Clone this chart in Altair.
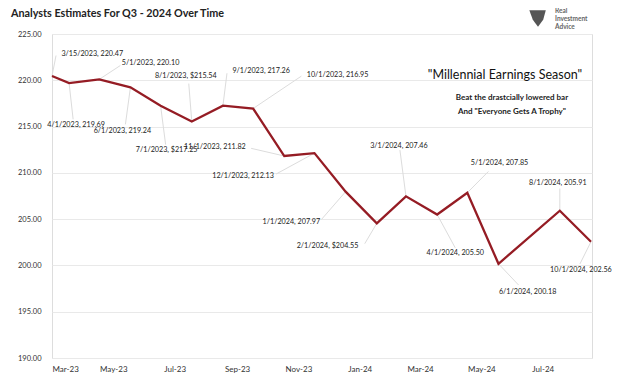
import altair as alt
import pandas as pd

# ---- data ----
dates = ["2023-03-15", "2023-04-01", "2023-05-01", "2023-06-01", "2023-07-01",
         "2023-08-01", "2023-09-01", "2023-10-01", "2023-11-01", "2023-12-01",
         "2024-01-01", "2024-02-01", "2024-03-01", "2024-04-01", "2024-05-01",
         "2024-06-01", "2024-08-01", "2024-09-01"]
values = [220.47, 219.69, 220.10, 219.24, 217.25, 215.54, 217.26, 216.95, 211.82,
          212.13, 207.97, 204.55, 207.46, 205.50, 207.85, 200.18, 205.91, 202.56]
point_labels = ["3/15/2023,  220.47", "4/1/2023,  219.69", "5/1/2023,  220.10",
                "6/1/2023,  219.24", "7/1/2023, $217.25", "8/1/2023, $215.54",
                "9/1/2023,  217.26", "10/1/2023,  216.95", "11/1/2023,  211.82",
                "12/1/2023,  212.13", "1/1/2024,  207.97", "2/1/2024, $204.55",
                "3/1/2024,  207.46", "4/1/2024,  205.50", "5/1/2024,  207.85",
                "6/1/2024,  200.18", "8/1/2024,  205.91", "10/1/2024, 202.56"]
y_ticks = [190, 195, 200, 205, 210, 215, 220, 225]
x_tick_dates = [(2023, 3), (2023, 5), (2023, 7), (2023, 9), (2023, 11),
                (2024, 1), (2024, 3), (2024, 5), (2024, 7)]

# ---- annotation layout (label offsets in days / value units) ----
label_shift = [(40, 2.4), (7, -4.55), (51, 1.75), (-8, -4.75), (6, -4.8), (-6, 4.9),
               (38, 3.7), (84, 3.6), (-69, 0.94), (-71, -2.5), (-54, -3.3), (-49, -2.5),
               (-7, 5.4), (18, -4.2), (32, 3.2), (29, -3.1), (-2, 2.95), (-10, -3.0)]
leader_shift = [(4, 2.2), (4, -3.9), (21, 1.5), (-5, -4.0), (5, -4.2), (-3, 4.1),
                (4, 3.5), (48, 3.5), (-33, 0.83), (-38, -2.25), (-24, -3.0), (-12, -2.2),
                (-6, 5.0), (18, -3.6), (21, 2.3), (20, -2.3), (0, 2.4), (-11, -2.4)]

df = pd.DataFrame({"date": pd.to_datetime(dates), "value": values, "label": point_labels})
df["ldate"] = df["date"] + pd.to_timedelta([s[0] for s in label_shift], unit="D")
df["lvalue"] = df["value"] + [s[1] for s in label_shift]
df["edate"] = df["date"] + pd.to_timedelta([s[0] for s in leader_shift], unit="D")
df["evalue"] = df["value"] + [s[1] for s in leader_shift]

FONT = "Lato"
xscale = alt.Scale(domain=[alt.DateTime(year=2023, month=3, date=15),
                           alt.DateTime(year=2024, month=9, date=2)])
yscale = alt.Scale(domain=[190, 225], nice=False, zero=False)

x_axis = alt.Axis(values=[alt.DateTime(year=y, month=m, date=15) for y, m in x_tick_dates],
                  format="%b-%y", title=None, grid=False, domain=False, ticks=False,
                  labelFont=FONT, labelFontSize=8, labelColor="#333", labelPadding=7)
y_axis = alt.Axis(values=y_ticks, format=".2f", title=None, domain=False, ticks=False,
                  grid=True, gridColor="#e9e9e9", gridWidth=1,
                  labelFont=FONT, labelFontSize=7.5, labelColor="#333", labelPadding=11)

base = alt.Chart(df)

line = base.mark_line(color="#951c24", strokeWidth=2.3).encode(
    x=alt.X("date:T", scale=xscale, axis=x_axis),
    y=alt.Y("value:Q", scale=yscale, axis=y_axis),
)

leaders = base.mark_rule(color="#dcdcdc", strokeWidth=1).encode(
    x=alt.X("date:T", scale=xscale, axis=x_axis),
    y=alt.Y("value:Q", scale=yscale, axis=y_axis),
    x2="edate:T", y2="evalue:Q")

texts = base.mark_text(font=FONT, fontSize=7.2, color="#222", align="center",
                       baseline="middle").encode(
    x=alt.X("ldate:T", scale=xscale, axis=x_axis),
    y=alt.Y("lvalue:Q", scale=yscale, axis=y_axis),
    text="label:N")

one = pd.DataFrame({"k": [0]})


def fixed_text(txt, x, y, size, weight="normal", color="#222", align="center"):
    return alt.Chart(one).mark_text(font=FONT, fontSize=size, fontWeight=weight, color=color,
                                    align=align, baseline="middle").encode(
        x=alt.value(x), y=alt.value(y), text=alt.value(txt))


title = fixed_text("Analysts Estimates For Q3 - 2024 Over Time", -41, -20, 10.8, "bold",
                   "#222", "left")
ann1 = fixed_text('"Millennial Earnings Season"', 453, 41, 12.5, color="#111")
ann2 = fixed_text("Beat the drastcially lowered bar", 460, 64, 8, "bold")
ann3 = fixed_text('And "Everyone Gets A Trophy"', 460, 78, 8, "bold")
logo1 = fixed_text("Real", 503, -23, 6.5, "bold", "#666", "left")
logo2 = fixed_text("Investment", 503, -15, 6.5, "bold", "#666", "left")
logo3 = fixed_text("Advice", 503, -7, 6.5, "bold", "#666", "left")
logo_icon = alt.Chart(one).mark_point(
    shape="M -1 -0.9 L 0.9 -0.9 L 0.6 0.2 L 0 1 L -0.6 0.2 Z",
    filled=True, color="#555", size=300, opacity=1).encode(
    x=alt.value(486), y=alt.value(-16))

chart = alt.layer(leaders, line, texts, title, ann1, ann2, ann3, logo1, logo2, logo3,
                  logo_icon).properties(
    width=540, height=324,
    autosize=alt.AutoSizeParams(type="none"),
    padding={"left": 44, "top": 26, "right": 20, "bottom": 16},
).configure_view(stroke=None).configure(background="white")

chart.save("out.html", embed_options={"renderer": "svg", "actions": False})
